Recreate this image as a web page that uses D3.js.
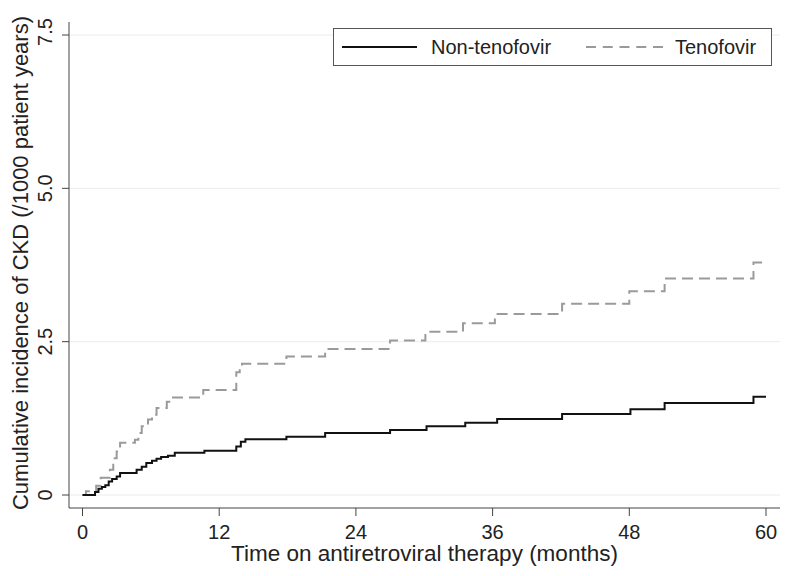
<!DOCTYPE html>
<html>
<head>
<meta charset="utf-8">
<script src="https://cdn.jsdelivr.net/npm/d3@7"></script>
<style>
  html, body { margin: 0; padding: 0; background: #fff; }
  svg { display: block; font-family: "Liberation Sans", Arial, sans-serif; }
</style>
</head>
<body>
<svg id="chart" width="800" height="576"></svg>
<script>
// ---- Data ----
const seriesNames = ["Non-tenofovir", "Tenofovir"];
const nonTenofovirTime  = [0, 1.1, 1.4, 1.7, 2.0, 2.3, 2.6, 3.0, 3.3, 4.75, 5.2, 5.6, 6.1, 6.5, 6.9, 7.5, 8.1, 10.7, 13.5, 13.9, 14.3, 17.9, 21.3, 27.0, 30.2, 33.6, 36.4, 42.1, 48.1, 51.1, 58.9, 60];
const nonTenofovirValue = [0, 0.05, 0.10, 0.13, 0.16, 0.22, 0.26, 0.30, 0.36, 0.41, 0.46, 0.52, 0.56, 0.59, 0.62, 0.64, 0.69, 0.72, 0.79, 0.87, 0.91, 0.95, 1.01, 1.06, 1.12, 1.18, 1.24, 1.32, 1.40, 1.50, 1.60, 1.60];
const tenofovirTime  = [0, 0.3, 1.2, 1.6, 2.4, 2.7, 3.0, 3.3, 4.6, 4.9, 5.2, 5.75, 6.1, 6.5, 7.4, 7.8, 10.6, 13.5, 13.8, 14.0, 17.9, 21.3, 27.0, 30.1, 33.4, 36.2, 42.1, 48.0, 51.1, 58.9, 60];
const tenofovirValue = [0, 0.06, 0.15, 0.28, 0.41, 0.60, 0.71, 0.85, 0.90, 1.01, 1.12, 1.23, 1.31, 1.42, 1.52, 1.59, 1.71, 2.00, 2.10, 2.14, 2.26, 2.38, 2.52, 2.66, 2.80, 2.95, 3.12, 3.32, 3.53, 3.79, 3.79];
const xTicks = [0, 12, 24, 36, 48, 60];
const yTicks = [0, 2.5, 5.0, 7.5];
const yTickLabels = ["0", "2.5", "5.0", "7.5"];
const xTitle = "Time on antiretroviral therapy (months)";
const yTitle = "Cumulative incidence of CKD (/1000 patient years)";

// ---- Layout ----
const svg = d3.select("#chart");
const plotLeft = 69, plotRight = 780, plotTop = 22, plotBottom = 508;
const x = d3.scaleLinear().domain([0, 60]).range([82.5, 766]);
const y = d3.scaleLinear().domain([0, 7.5]).range([495, 35]);

// gridlines
svg.append("g").selectAll("line").data(yTicks).join("line")
  .attr("x1", plotLeft).attr("x2", plotRight)
  .attr("y1", d => y(d)).attr("y2", d => y(d))
  .attr("stroke", "#ececec").attr("stroke-width", 1);

// axes lines
svg.append("line").attr("x1", plotLeft).attr("x2", plotLeft).attr("y1", plotTop).attr("y2", plotBottom)
  .attr("stroke", "#444").attr("stroke-width", 1);
svg.append("line").attr("x1", plotLeft).attr("x2", plotRight).attr("y1", plotBottom).attr("y2", plotBottom)
  .attr("stroke", "#444").attr("stroke-width", 1);

// y ticks
const yg = svg.append("g");
yg.selectAll("line").data(yTicks).join("line")
  .attr("x1", plotLeft - 7).attr("x2", plotLeft)
  .attr("y1", d => y(d)).attr("y2", d => y(d))
  .attr("stroke", "#444");
yg.selectAll("text").data(yTicks).join("text")
  .attr("transform", d => `translate(52,${y(d) - (d === 7.5 ? 3 : 0)}) rotate(-90)`)
  .attr("text-anchor", "middle")
  .attr("font-size", 20).attr("fill", "#222")
  .text((d, i) => yTickLabels[i]);

// x ticks
const xg = svg.append("g");
xg.selectAll("line").data(xTicks).join("line")
  .attr("x1", d => x(d)).attr("x2", d => x(d))
  .attr("y1", plotBottom).attr("y2", plotBottom + 8)
  .attr("stroke", "#444");
xg.selectAll("text").data(xTicks).join("text")
  .attr("x", d => x(d)).attr("y", 539)
  .attr("text-anchor", "middle")
  .attr("font-size", 20).attr("fill", "#222")
  .text(d => d);

// titles
svg.append("text").attr("x", 424.5).attr("y", 561)
  .attr("text-anchor", "middle").attr("font-size", 22.5).attr("fill", "#222")
  .text(xTitle);
svg.append("text").attr("transform", `translate(28,263) rotate(-90)`)
  .attr("text-anchor", "middle").attr("font-size", 22).attr("fill", "#222")
  .text(yTitle);

// lines
const line = d3.line().curve(d3.curveStepAfter).x(d => x(d[0])).y(d => y(d[1]));
const nonData = nonTenofovirTime.map((t, i) => [t, nonTenofovirValue[i]]);
const tenData = tenofovirTime.map((t, i) => [t, tenofovirValue[i]]);
svg.append("path").datum(tenData).attr("d", line)
  .attr("fill", "none").attr("stroke", "#9a9a9a").attr("stroke-width", 2)
  .attr("stroke-dasharray", "11,6");
svg.append("path").datum(nonData).attr("d", line)
  .attr("fill", "none").attr("stroke", "#111").attr("stroke-width", 2);

// legend
const lg = svg.append("g");
lg.append("rect").attr("x", 333.5).attr("y", 28.5).attr("width", 438).attr("height", 37)
  .attr("fill", "#fff").attr("stroke", "#555").attr("stroke-width", 1);
lg.append("line").attr("x1", 342).attr("x2", 417).attr("y1", 47).attr("y2", 47)
  .attr("stroke", "#111").attr("stroke-width", 2);
lg.append("text").attr("x", 431).attr("y", 54).attr("font-size", 20).attr("fill", "#222").text(seriesNames[0]);
lg.append("line").attr("x1", 586).attr("x2", 663).attr("y1", 47).attr("y2", 47)
  .attr("stroke", "#9a9a9a").attr("stroke-width", 2).attr("stroke-dasharray", "10,6.75");
lg.append("text").attr("x", 675).attr("y", 54).attr("font-size", 20).attr("fill", "#222").text(seriesNames[1]);
</script>
</body>
</html>
